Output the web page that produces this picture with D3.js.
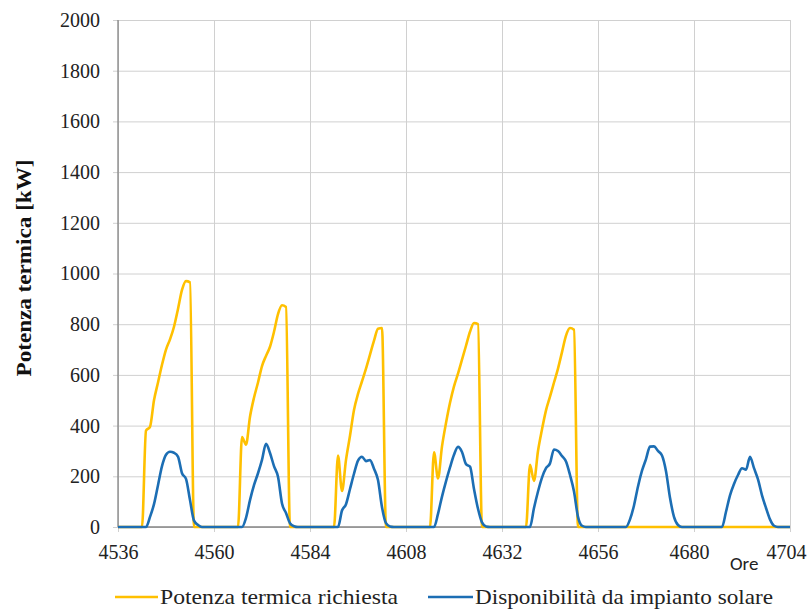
<!DOCTYPE html>
<html>
<head>
<meta charset="utf-8">
<script src="https://cdn.jsdelivr.net/npm/d3@7"></script>
<style>
  html, body { margin: 0; padding: 0; background: #fff; }
  svg { display: block; }
  .serif { font-family: "Liberation Serif", "Times New Roman", serif; }
</style>
</head>
<body>
<script>
// Hourly series, hours 4536 … 4704 (one row per day of 24 h)
const hourStart = 4536;
const hourEnd = 4704;
const xTicks = [4536, 4560, 4584, 4608, 4632, 4656, 4680, 4704];
const yTicks = [0, 200, 400, 600, 800, 1000, 1200, 1400, 1600, 1800, 2000];

// Potenza termica richiesta [kW]
const demand = [
  0, 0, 0, 0, 0, 0, 0, 380, 395, 500, 570, 640, 700, 740, 790, 860, 935, 970, 965, 0, 0, 0, 0, 0,
  0, 0, 0, 0, 0, 0, 0, 355, 325, 435, 510, 570, 635, 675, 711, 770, 840, 875, 868, 0, 0, 0, 0, 0,
  0, 0, 0, 0, 0, 0, 0, 282, 142, 265, 360, 462, 525, 575, 625, 680, 735, 782, 785, 0, 0, 0, 0, 0,
  0, 0, 0, 0, 0, 0, 0, 295, 192, 318, 410, 490, 555, 605, 660, 715, 770, 805, 800, 0, 0, 0, 0, 0,
  0, 0, 0, 0, 0, 0, 0, 245, 182, 300, 385, 460, 514, 570, 625, 690, 755, 785, 778, 0, 0, 0, 0, 0,
  0, 0, 0, 0, 0, 0, 0, 0, 0, 0, 0, 0, 0, 0, 0, 0, 0, 0, 0, 0, 0, 0, 0, 0,
  0, 0, 0, 0, 0, 0, 0, 0, 0, 0, 0, 0, 0, 0, 0, 0, 0, 0, 0, 0, 0, 0, 0, 0,
  0
];

// Disponibilità da impianto solare [kW]
const solar = [
  0, 0, 0, 0, 0, 0, 0, 0, 40, 90, 165, 240, 285, 297, 293, 278, 212, 190, 106, 25, 8, 0, 0, 0,
  0, 0, 0, 0, 0, 0, 0, 0, 36, 106, 165, 212, 265, 328, 292, 240, 198, 93, 55, 15, 3, 0, 0, 0,
  0, 0, 0, 0, 0, 0, 0, 0, 65, 90, 150, 210, 262, 277, 260, 264, 230, 185, 78, 15, 2, 0, 0, 0,
  0, 0, 0, 0, 0, 0, 0, 0, 52, 120, 180, 235, 285, 316, 296, 248, 238, 150, 72, 18, 2, 0, 0, 0,
  0, 0, 0, 0, 0, 0, 0, 0, 75, 140, 195, 232, 251, 306, 300, 280, 258, 205, 140, 40, 5, 0, 0, 0,
  0, 0, 0, 0, 0, 0, 0, 0, 30, 85, 160, 222, 268, 317, 318, 300, 282, 220, 115, 40, 8, 0, 0, 0,
  0, 0, 0, 0, 0, 0, 0, 0, 60, 125, 170, 205, 232, 226, 277, 232, 188, 125, 75, 30, 5, 0, 0, 0,
  0
];

const seriesNames = ["Potenza termica richiesta", "Disponibilità da impianto solare"];
const seriesColors = ["#FFC000", "#1C6EB4"];

const W = 812, H = 609;
const margin = { top: 20, right: 22, bottom: 82, left: 118 };
const innerW = W - margin.left - margin.right;
const innerH = H - margin.top - margin.bottom;

const svg = d3.select("body").append("svg")
  .attr("width", W).attr("height", H);

const x = d3.scaleLinear().domain([hourStart, hourEnd]).range([0, innerW]);
const y = d3.scaleLinear().domain([0, 2000]).range([innerH, 0]);

const g = svg.append("g").attr("transform", `translate(${margin.left},${margin.top})`);

// horizontal grid + y labels
const yAxis = g.append("g")
  .call(d3.axisLeft(y).tickValues(yTicks).tickSize(5).tickPadding(13).tickFormat(d3.format("d")))
  .call(a => a.select(".domain").remove())
  .attr("font-family", null).attr("font-size", null);
yAxis.selectAll(".tick line")
  .attr("x1", -5).attr("x2", innerW)
  .attr("stroke", "#D0D0D0").attr("stroke-width", 1);
yAxis.selectAll(".tick text")
  .attr("class", "serif").style("font-size", "20px").attr("fill", "#222");

// vertical grid + x labels
const xAxis = g.append("g")
  .attr("transform", `translate(0,${innerH})`)
  .call(d3.axisBottom(x).tickValues(xTicks).tickSize(5).tickPadding(13).tickFormat(d3.format("d")))
  .call(a => a.select(".domain").remove())
  .attr("font-family", null).attr("font-size", null);
xAxis.selectAll(".tick line")
  .attr("y1", -innerH).attr("y2", 5)
  .attr("stroke", "#D0D0D0").attr("stroke-width", 1);
xAxis.selectAll(".tick text")
  .attr("class", "serif").style("font-size", "20px").attr("fill", "#222")
  .attr("dx", d => d === 4680 ? -5 : d === 4704 ? -4 : 0);

// axis lines
g.append("line").attr("x1", 0).attr("x2", 0).attr("y1", 0).attr("y2", innerH)
  .attr("stroke", "#858585").attr("stroke-width", 1.3);
g.append("line").attr("x1", 0).attr("x2", innerW).attr("y1", innerH).attr("y2", innerH)
  .attr("stroke", "#858585").attr("stroke-width", 1.3);

// series
const hours = d3.range(hourStart, hourEnd + 1);
const line = d3.line()
  .x((d, i) => x(hours[i]))
  .y(d => y(d))
  .curve(d3.curveMonotoneX);

[demand, solar].forEach((vals, k) => {
  g.append("path")
    .datum(vals)
    .attr("fill", "none")
    .attr("stroke", seriesColors[k])
    .attr("stroke-width", 2.6)
    .attr("stroke-linejoin", "round")
    .attr("d", line);
});

// y axis title
svg.append("text")
  .attr("class", "serif")
  .attr("transform", "translate(31,268) rotate(-90)")
  .attr("text-anchor", "middle")
  .style("font-weight", "bold").style("font-size", "20px")
  .attr("textLength", 217).attr("lengthAdjust", "spacingAndGlyphs")
  .attr("fill", "#111")
  .text("Potenza termica [kW]");

// x axis title
svg.append("text")
  .attr("x", 730).attr("y", 570)
  .style("font-family", "Carlito, 'Liberation Sans', sans-serif").style("font-size", "19px")
  .attr("fill", "#222")
  .text("Ore");

// legend
const legend = [
  { x1: 115, x2: 158, tx: 160, w: 238 },
  { x1: 428, x2: 473, tx: 475, w: 298 }
];
legend.forEach((l, k) => {
  svg.append("line")
    .attr("x1", l.x1).attr("x2", l.x2).attr("y1", 597).attr("y2", 597)
    .attr("stroke", seriesColors[k]).attr("stroke-width", 2.6);
  svg.append("text")
    .attr("class", "serif")
    .attr("x", l.tx).attr("y", 604)
    .style("font-size", "22px").attr("fill", "#222")
    .attr("textLength", l.w).attr("lengthAdjust", "spacingAndGlyphs")
    .text(seriesNames[k]);
});
</script>
</body>
</html>
